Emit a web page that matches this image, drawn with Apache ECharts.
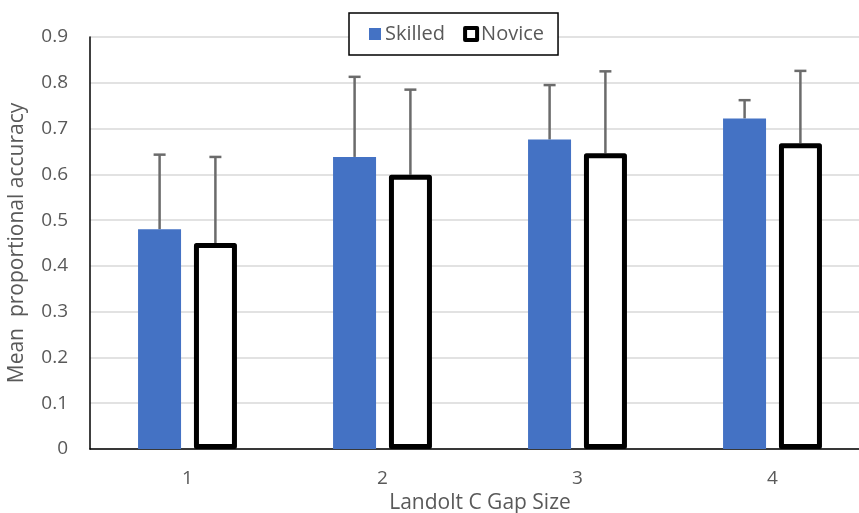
<!DOCTYPE html>
<html><head><meta charset="utf-8">
<script src="https://cdn.jsdelivr.net/npm/echarts@6/dist/echarts.min.js"></script>
<style>html,body{margin:0;padding:0;background:#fff}#c{width:859px;height:513px}</style>
</head><body><div id="c"></div>
<script>
const categories = ['1', '2', '3', '4'];
const skilled = [0.48, 0.638, 0.676, 0.722];
const skilledErr = [0.163, 0.175, 0.119, 0.040];
const novice = [0.45, 0.599, 0.646, 0.668];
const noviceErr = [0.188, 0.186, 0.179, 0.158];
const yTicks = [0, 0.1, 0.2, 0.3, 0.4, 0.5, 0.6, 0.7, 0.8, 0.9];

const FONT = '"Open Sans", "Noto Sans", sans-serif';
const GREY = '#595959';
const BAR_W = 43;
const OFFSET = 27.9;

function errSeries(name, vals, errs, dir) {
  return {
    type: 'custom', name: name + ' err', z: 1, silent: true,
    data: vals.map((v, i) => [i, v, v + errs[i]]),
    renderItem: function (params, api) {
      const base = api.coord([api.value(0), api.value(1)]);
      const top = api.coord([api.value(0), api.value(2)]);
      const x = base[0] + dir * OFFSET;
      return {
        type: 'group', children: [
          { type: 'line', shape: { x1: x, y1: base[1], x2: x, y2: top[1] }, style: { stroke: '#6b6b6b', lineWidth: 2.5 } },
          { type: 'line', shape: { x1: x - 6, y1: top[1], x2: x + 6, y2: top[1] }, style: { stroke: '#6b6b6b', lineWidth: 2.5 } }
        ]
      };
    }
  };
}

const chart = echarts.init(document.getElementById('c'));
chart.setOption({
  animation: false,
  textStyle: { fontFamily: FONT },
  legend: {
    top: 13, left: 349,
    padding: [11, 14, 11, 20],
    borderColor: '#000', borderWidth: 1.5, backgroundColor: '#fff',
    itemWidth: 12, itemHeight: 12, itemGap: 18,
    textStyle: { fontSize: 20, color: GREY, fontFamily: FONT, padding: [0, 0, 0, -1] },
    data: [
      { name: 'Skilled', icon: 'rect' },
      { name: 'Novice', icon: 'rect', itemStyle: { color: '#fff', borderColor: '#000', borderWidth: 4 } }
    ]
  },
  grid: { left: 90, top: 37, bottom: 64, width: 780, containLabel: false, outerBoundsMode: 'none' },
  xAxis: {
    type: 'category', data: categories,
    name: 'Landolt C Gap Size', nameLocation: 'middle', nameGap: 42,
    nameTextStyle: { fontSize: 21, color: GREY },
    axisLine: { lineStyle: { color: '#000', width: 1.5 } },
    axisTick: { show: false },
    axisLabel: { fontSize: 19, color: GREY, margin: 20 }
  },
  yAxis: {
    type: 'value', min: 0, max: 0.9, interval: 0.1,
    name: 'Mean  proportional accuracy', nameLocation: 'middle', nameGap: 62,
    nameTextStyle: { fontSize: 21, color: GREY },
    axisLine: { show: true, lineStyle: { color: '#000', width: 1.5 } },
    axisTick: { show: false },
    axisLabel: { fontSize: 19, color: GREY, margin: 22, formatter: v => String(+v.toFixed(1)) },
    splitLine: { lineStyle: { color: '#d9d9d9', width: 1.5 } }
  },
  series: [
    { name: 'Skilled', type: 'bar', data: skilled, barWidth: BAR_W, barGap: '30%', z: 2,
      itemStyle: { color: '#4472c4' } },
    { name: 'Novice', type: 'bar', data: novice, barWidth: BAR_W, z: 2,
      itemStyle: { color: '#fff', borderColor: '#000', borderWidth: 5, borderJoin: 'round' } },
    errSeries('Skilled', skilled, skilledErr, -1),
    errSeries('Novice', novice, noviceErr, 1)
  ]
});
</script></body></html>
